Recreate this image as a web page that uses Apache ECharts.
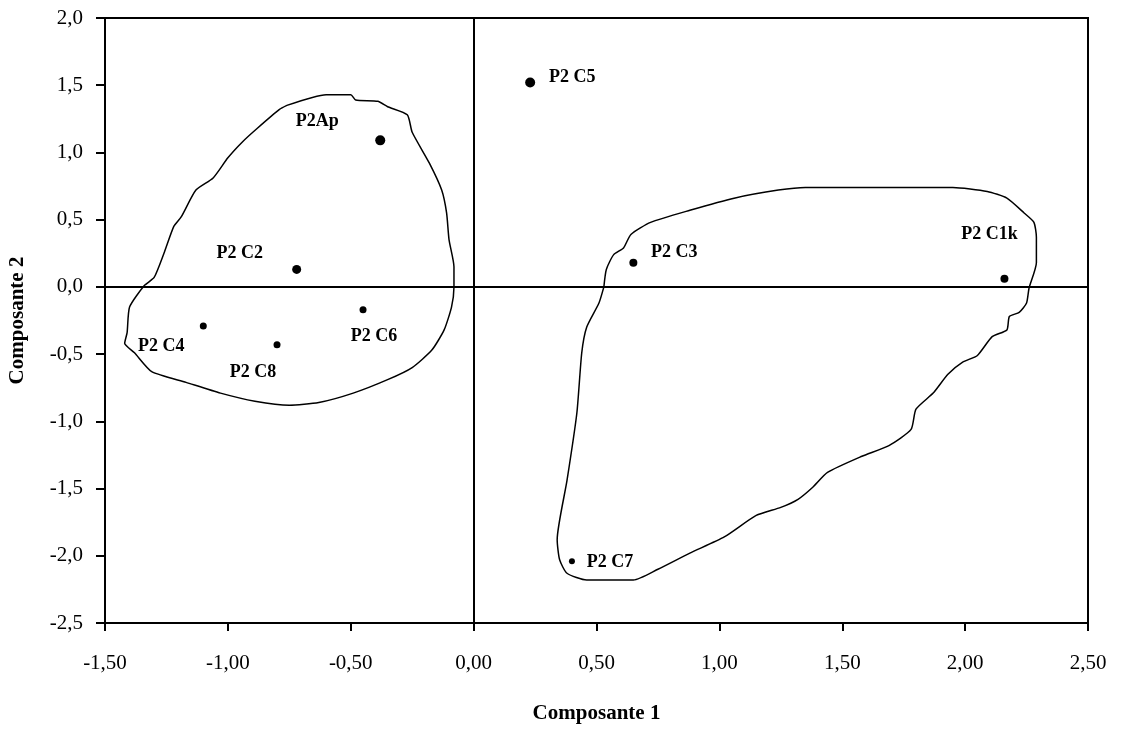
<!DOCTYPE html>
<html>
<head>
<meta charset="utf-8">
<script src="https://cdn.jsdelivr.net/npm/echarts@6/dist/echarts.min.js"></script>
<style>
  html, body { margin: 0; padding: 0; background: #fff; }
  #chart { width: 1125px; height: 735px; }
</style>
</head>
<body>
<div id="chart"></div>
<script>
// Individuals on the first two principal components
const pointNames = ['P2 C5', 'P2Ap', 'P2 C2', 'P2 C3', 'P2 C1k', 'P2 C4', 'P2 C8', 'P2 C6', 'P2 C7'];
const comp1 = [0.23, -0.38, -0.72, 0.65, 2.16, -1.10, -0.80, -0.45, 0.40];
const comp2 = [1.52, 1.09, 0.13, 0.18, 0.06, -0.29, -0.43, -0.17, -2.04];

// Hand-drawn outline around the left group (data units)
const leftGroupOutline = [
  [-0.76, 1.35], [-0.60, 1.43], [-0.50, 1.43], [-0.48, 1.39], [-0.39, 1.38], [-0.35, 1.34],
  [-0.27, 1.28], [-0.25, 1.15], [-0.18, 0.92], [-0.13, 0.72], [-0.11, 0.55], [-0.10, 0.35],
  [-0.08, 0.15], [-0.08, 0.00], [-0.09, -0.15], [-0.12, -0.32], [-0.17, -0.47],
  [-0.25, -0.60], [-0.35, -0.69], [-0.49, -0.79], [-0.63, -0.86], [-0.75, -0.88], [-0.89, -0.85],
  [-1.03, -0.79], [-1.17, -0.71], [-1.31, -0.63], [-1.38, -0.49], [-1.42, -0.42], [-1.41, -0.34],
  [-1.40, -0.15], [-1.34, 0.01], [-1.30, 0.07], [-1.26, 0.25], [-1.22, 0.45], [-1.19, 0.52],
  [-1.13, 0.72], [-1.06, 0.81], [-1.00, 0.96], [-0.94, 1.08], [-0.88, 1.18], [-0.79, 1.32],
  [-0.76, 1.35]
];

// Hand-drawn outline around the right group (data units)
const rightGroupOutline = [
  [0.53, 0.00], [0.54, 0.13], [0.57, 0.24], [0.61, 0.29], [0.64, 0.39], [0.72, 0.48],
  [0.88, 0.57], [1.06, 0.66], [1.24, 0.72], [1.35, 0.74], [1.95, 0.74], [2.09, 0.71],
  [2.17, 0.66], [2.24, 0.55], [2.28, 0.48], [2.29, 0.37], [2.29, 0.18], [2.26, -0.01],
  [2.25, -0.12], [2.22, -0.19], [2.18, -0.22], [2.17, -0.32], [2.11, -0.37], [2.05, -0.51],
  [1.99, -0.56], [1.93, -0.65], [1.87, -0.79], [1.80, -0.91], [1.78, -1.06], [1.69, -1.18],
  [1.58, -1.26], [1.44, -1.38], [1.38, -1.49], [1.32, -1.58], [1.25, -1.64], [1.15, -1.70],
  [1.02, -1.86], [0.88, -1.98], [0.75, -2.10], [0.65, -2.18], [0.46, -2.18], [0.38, -2.13],
  [0.35, -2.03], [0.34, -1.88], [0.38, -1.44], [0.42, -0.94], [0.44, -0.49], [0.46, -0.30],
  [0.51, -0.12], [0.53, 0.00]
];

// Axis ranges and steps
const xRange = [-1.5, 2.5];
const yRange = [-2.5, 2.0];
const xStep = 0.5;
const yStep = 0.5;
const xTitle = 'Composante 1';
const yTitle = 'Composante 2';

// Label placement (offset of label centre from its point, px) and dot size
const labelOffset = {
  'P2 C5': [42, -5], 'P2Ap': [-63, -19], 'P2 C2': [-57, -16], 'P2 C3': [41, -10],
  'P2 C1k': [-15, -44], 'P2 C4': [-42, 20], 'P2 C8': [-24, 28], 'P2 C6': [11, 27], 'P2 C7': [38, 1]
};
const dotSize = {
  'P2 C5': 10, 'P2Ap': 10, 'P2 C2': 9, 'P2 C3': 8, 'P2 C1k': 8,
  'P2 C4': 7, 'P2 C8': 7, 'P2 C6': 7, 'P2 C7': 6
};

const FONT = '"Liberation Serif", "Times New Roman", serif';
const comma = (v, d) => v.toFixed(d).replace('.', ',');

const points = pointNames.map((name, i) => ({
  name: name,
  value: [comp1[i], comp2[i]],
  symbolSize: dotSize[name],
  label: { offset: labelOffset[name] }
}));

const outlineSeries = (data) => ({
  type: 'line',
  data: data,
  smooth: 0.2,
  showSymbol: false,
  symbol: 'none',
  silent: true,
  lineStyle: { color: '#000', width: 1.5 },
  z: 2
});

const chart = echarts.init(document.getElementById('chart'), null, { renderer: 'canvas' });
chart.setOption({
  backgroundColor: '#fff',
  animation: false,
  grid: {
    left: 105, right: 37, top: 18, bottom: 112,
    outerBoundsMode: 'none',
    containLabel: false,
    show: true, borderColor: '#000', borderWidth: 2, backgroundColor: 'transparent'
  },
  xAxis: {
    type: 'value',
    min: xRange[0], max: xRange[1], interval: xStep,
    name: xTitle,
    nameLocation: 'middle',
    nameGap: 80,
    nameTextStyle: { fontFamily: FONT, fontWeight: 'bold', fontSize: 21, color: '#000' },
    axisLine: { onZero: false, lineStyle: { color: '#000', width: 2 } },
    axisTick: { inside: false, length: 8, lineStyle: { color: '#000', width: 2 } },
    axisLabel: {
      formatter: (v) => comma(v, 2),
      fontFamily: FONT, fontSize: 21, color: '#000', margin: 30
    },
    splitLine: { show: false }
  },
  yAxis: {
    type: 'value',
    min: yRange[0], max: yRange[1], interval: yStep,
    name: yTitle,
    nameLocation: 'middle',
    nameGap: 77,
    nameRotate: 90,
    nameTextStyle: { fontFamily: FONT, fontWeight: 'bold', fontSize: 21, color: '#000' },
    axisLine: { onZero: false, lineStyle: { color: '#000', width: 2 } },
    axisTick: { inside: false, length: 9, lineStyle: { color: '#000', width: 2 } },
    axisLabel: {
      formatter: (v) => comma(v, 1),
      fontFamily: FONT, fontSize: 21, color: '#000', margin: 22
    },
    splitLine: { show: false }
  },
  series: [
    outlineSeries(leftGroupOutline),
    outlineSeries(rightGroupOutline),
    {
      type: 'scatter',
      data: points,
      symbol: 'circle',
      itemStyle: { color: '#000', opacity: 1 },
      z: 4,
      label: {
        show: true,
        position: 'inside',
        formatter: (p) => p.name,
        fontFamily: FONT, fontWeight: 'bold', fontSize: 18, color: '#000', opacity: 1
      },
      markLine: {
        silent: true,
        symbol: 'none',
        label: { show: false },
        lineStyle: { color: '#000', width: 2, type: 'solid', opacity: 1 },
        data: [{ xAxis: 0 }, { yAxis: 0 }]
      }
    }
  ]
});
</script>
</body>
</html>
